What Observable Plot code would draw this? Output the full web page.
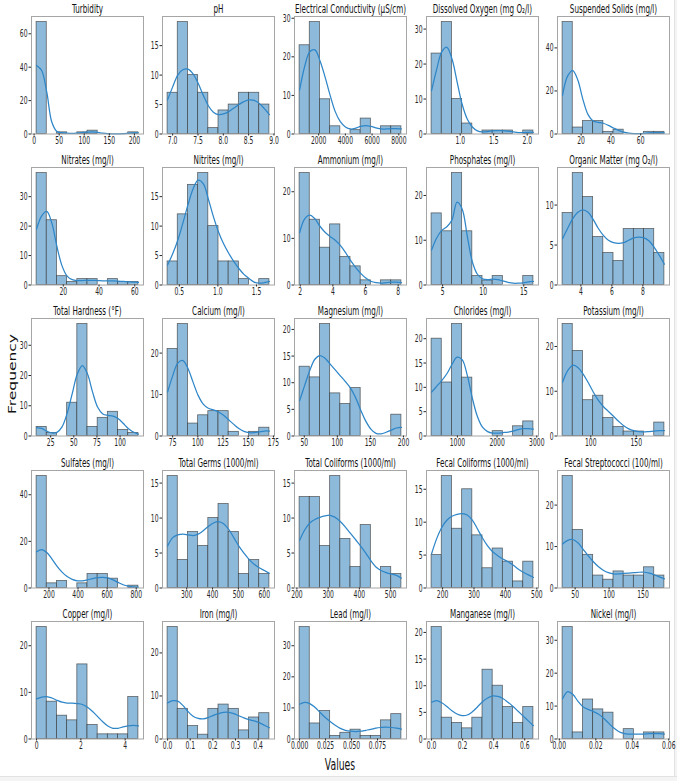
<!DOCTYPE html>
<html>
<head>
<meta charset="utf-8">
<script src="https://cdn.jsdelivr.net/npm/d3@7"></script>
<script src="https://cdn.jsdelivr.net/npm/@observablehq/plot@0.6"></script>
<style>
  html, body { margin: 0; padding: 0; background: #fff; }
  #fig { position: relative; width: 677px; height: 781px; overflow: hidden; background: #fff; }
  #edgeR { position: absolute; left: 674px; top: 0; width: 3px; height: 777px; background: #f4f4f4; border-left: 1px solid #e2e2e2; }
  #edgeB { position: absolute; left: 0; top: 776px; width: 677px; height: 5px; background: #f4f4f4; border-top: 1px solid #e2e2e2; }
</style>
</head>
<body>
<div id="fig"><div id="edgeR"></div><div id="edgeB"></div></div>
<script>
// Water-quality parameters: one histogram (10 bins) with a density curve per parameter.
const titles = [
  "Turbidity", "pH", "Electrical Conductivity (µS/cm)", "Dissolved Oxygen (mg O₂/l)", "Suspended Solids (mg/l)",
  "Nitrates (mg/l)", "Nitrites (mg/l)", "Ammonium (mg/l)", "Phosphates (mg/l)", "Organic Matter (mg O₂/l)",
  "Total Hardness (°F)", "Calcium (mg/l)", "Magnesium (mg/l)", "Chlorides (mg/l)", "Potassium (mg/l)",
  "Sulfates (mg/l)", "Total Germs (1000/ml)", "Total Coliforms (1000/ml)", "Fecal Coliforms (1000/ml)", "Fecal Streptococci (100/ml)",
  "Copper (mg/l)", "Iron (mg/l)", "Lead (mg/l)", "Manganese (mg/l)", "Nickel (mg/l)"
];

// Range covered by the bins (data minimum and maximum)
const binLo = [5, 6.9, 575, 0.573, 7.57, 5.05, 0.348, 1.96, 3.64, 2.82, 9.8, 70, 42.9, 350, 69, 115, 226, 208.6, 165, 31.5, 0, 0, 0, 0, 0.0018];
const binHi = [208, 8.91, 8195, 2.093, 75.9, 62.05, 1.668, 8.2, 16.19, 9.39, 119.8, 171, 196.9, 2915, 181, 815, 620, 534.6, 489, 181.5, 4.6, 0.45, 0.098, 0.656, 0.0576];

// Counts per bin
const counts = [
  [67, 0, 1, 0, 1, 2, 0, 0, 0, 1],
  [7, 19, 10, 7, 1, 4, 5, 7, 7, 5],
  [23, 29, 9, 2, 0, 1, 4, 0, 2, 2],
  [23, 32, 10, 3, 0, 1, 1, 1, 0, 1],
  [52, 3, 6, 6, 1, 2, 0, 0, 1, 1],
  [38, 22, 3, 1, 2, 2, 0, 2, 1, 1],
  [4, 12, 17, 19, 10, 4, 4, 1, 0, 1],
  [24, 14, 8, 13, 6, 4, 1, 0, 1, 1],
  [16, 12, 25, 12, 2, 1, 2, 0, 0, 2],
  [9, 14, 11, 6, 4, 3, 7, 7, 7, 4],
  [3, 1, 0, 11, 37, 3, 6, 8, 2, 1],
  [21, 27, 3, 5, 6, 6, 1, 0, 1, 2],
  [13, 11, 21, 8, 6, 9, 0, 0, 0, 4],
  [20, 11, 23, 12, 0, 0, 1, 0, 2, 3],
  [25, 19, 8, 9, 4, 2, 1, 1, 0, 3],
  [48, 2, 3, 0, 2, 6, 6, 4, 0, 1],
  [16, 4, 8, 6, 10, 12, 8, 2, 4, 2],
  [13, 13, 6, 16, 7, 3, 9, 0, 3, 2],
  [5, 17, 9, 15, 8, 3, 6, 4, 1, 4],
  [27, 14, 8, 3, 2, 4, 3, 3, 5, 3],
  [24, 8, 5, 4, 16, 3, 1, 1, 1, 9],
  [26, 7, 3, 1, 7, 8, 7, 2, 5, 6],
  [36, 5, 9, 1, 2, 3, 1, 1, 6, 8],
  [21, 4, 3, 2, 4, 13, 10, 6, 3, 6],
  [34, 2, 12, 9, 8, 0, 3, 0, 2, 2]
];

// Density curve (scaled to counts), sampled every half bin from binLo to binHi
const kde = [
  [41, 38, 25, 7, 1.5, 0.8, 0.5, 0.4, 0.6, 0.9, 1.1, 1.2, 1.0, 0.5, 0.2, 0.1, 0.1, 0.2, 0.4, 0.6, 0.6],
  [5.8, 8.0, 10.0, 10.9, 11.0, 10.2, 8.6, 6.6, 4.8, 3.7, 3.3, 3.4, 3.8, 4.4, 5.0, 5.5, 5.8, 5.7, 5.2, 4.3, 3.3],
  [11.4, 17.5, 21.3, 21.8, 19.0, 14.8, 10.0, 5.8, 3.2, 1.8, 1.3, 1.5, 2.0, 2.2, 2.0, 1.6, 1.3, 1.3, 1.4, 1.4, 1.3],
  [12.4, 18.5, 23.5, 24.8, 21.5, 15.0, 8.5, 4.3, 2.0, 0.9, 0.6, 0.7, 0.9, 1.0, 0.9, 0.8, 0.6, 0.4, 0.4, 0.5, 0.5],
  [18, 27, 29.5, 25, 16, 9, 6, 5.4, 5.0, 4.0, 2.8, 1.7, 0.9, 0.4, 0.2, 0.2, 0.3, 0.5, 0.6, 0.6, 0.5],
  [19, 23.5, 25, 21, 13, 6.5, 3.0, 1.8, 1.5, 1.5, 1.6, 1.6, 1.5, 1.4, 1.4, 1.4, 1.3, 1.2, 1.1, 1.0, 0.9],
  [3.4, 5.3, 7.6, 10.5, 13.6, 16.3, 17.8, 17.2, 14.6, 11.6, 9.0, 7.0, 5.4, 4.0, 2.8, 1.8, 1.1, 0.5, 0.3, 0.4, 0.6],
  [11.2, 14.2, 15.0, 14.2, 12.6, 11.3, 10.4, 9.6, 8.5, 7.0, 5.3, 3.8, 2.5, 1.5, 0.8, 0.5, 0.4, 0.5, 0.6, 0.6, 0.5],
  [7.8, 10.5, 12.2, 13.0, 14.5, 18.5, 17.0, 11.0, 5.2, 2.4, 1.4, 1.2, 1.3, 1.2, 0.9, 0.6, 0.4, 0.4, 0.5, 0.7, 0.8],
  [5.8, 7.1, 8.3, 9.1, 9.4, 9.1, 8.2, 7.1, 6.2, 5.6, 5.3, 5.2, 5.3, 5.6, 5.9, 6.0, 5.9, 5.5, 4.7, 3.7, 2.6],
  [2.8, 2.5, 1.6, 1.0, 1.2, 3.0, 7.5, 14.0, 20.5, 23.3, 20.5, 14.5, 9.5, 7.3, 6.8, 6.6, 5.8, 4.2, 2.5, 1.3, 0.6],
  [10.6, 14.5, 17.6, 18.2, 16.3, 13.0, 9.8, 7.7, 6.7, 6.3, 5.8, 5.0, 3.9, 2.8, 1.8, 1.1, 0.8, 0.8, 1.0, 1.2, 1.2],
  [6.6, 9.5, 12.3, 14.4, 15.1, 14.6, 13.5, 12.4, 11.3, 10.2, 9.0, 7.2, 4.9, 2.8, 1.3, 0.5, 0.4, 0.7, 1.1, 1.5, 1.6],
  [9.0, 10.2, 11.4, 12.8, 14.7, 16.2, 15.7, 12.5, 7.8, 4.0, 1.8, 0.9, 0.6, 0.6, 0.7, 0.8, 1.0, 1.3, 1.5, 1.5, 1.4],
  [12.0, 14.6, 15.8, 15.3, 13.9, 12.0, 9.9, 8.0, 6.6, 5.5, 4.4, 3.3, 2.3, 1.6, 1.2, 1.0, 0.9, 1.0, 1.1, 1.2, 1.2],
  [15.5, 16.5, 15.2, 12.5, 9.4, 6.8, 4.9, 3.7, 3.1, 3.1, 3.5, 4.0, 4.4, 4.6, 4.3, 3.5, 2.4, 1.4, 0.8, 0.5, 0.4],
  [6.0, 7.2, 7.6, 7.7, 7.6, 7.5, 7.7, 8.2, 8.8, 9.3, 9.5, 9.2, 8.4, 7.2, 6.0, 5.0, 4.1, 3.4, 2.9, 2.5, 2.1],
  [6.8, 8.3, 9.3, 9.8, 10.1, 10.3, 10.4, 10.1, 9.5, 8.7, 7.8, 6.9, 6.0, 5.0, 3.9, 3.0, 2.5, 2.2, 2.0, 1.8, 1.4],
  [5.2, 7.5, 9.2, 10.3, 10.9, 11.2, 11.3, 11.1, 10.3, 9.0, 7.6, 6.4, 5.5, 4.9, 4.4, 4.0, 3.5, 2.9, 2.4, 2.0, 1.6],
  [10.6, 11.5, 11.7, 10.9, 9.4, 7.8, 6.4, 5.2, 4.3, 3.7, 3.4, 3.4, 3.5, 3.6, 3.7, 3.8, 3.8, 3.6, 3.2, 2.7, 2.2],
  [8.6, 9.0, 9.1, 8.8, 8.3, 7.9, 7.7, 7.7, 7.6, 7.4, 6.8, 5.9, 4.8, 3.7, 2.8, 2.3, 2.3, 2.6, 2.8, 2.9, 2.8],
  [8.4, 8.9, 8.8, 7.8, 6.4, 5.3, 4.8, 4.7, 5.0, 5.5, 5.9, 6.2, 6.2, 5.9, 5.4, 4.9, 4.5, 4.2, 3.8, 3.2, 2.6],
  [11.2, 11.8, 11.4, 10.2, 8.6, 7.0, 5.6, 4.4, 3.4, 2.8, 2.5, 2.4, 2.5, 2.8, 3.1, 3.5, 3.7, 3.8, 3.7, 3.5, 3.2],
  [6.9, 7.2, 6.8, 6.1, 5.3, 4.7, 4.4, 4.5, 5.1, 6.0, 7.0, 7.7, 8.1, 8.0, 7.6, 6.9, 6.1, 5.2, 4.3, 3.4, 2.5],
  [12.2, 14.4, 13.6, 11.5, 9.8, 9.0, 8.4, 7.6, 6.4, 4.9, 3.4, 2.3, 1.7, 1.5, 1.5, 1.5, 1.5, 1.6, 1.6, 1.6, 1.5]
];

// Tick values and labels
const xTicks = [
  [0, 50, 100, 150, 200], [7, 7.5, 8, 8.5, 9], [2000, 4000, 6000, 8000], [1, 1.5, 2], [20, 40, 60],
  [20, 40, 60], [0.5, 1, 1.5], [2, 4, 6, 8], [5, 10, 15], [4, 6, 8],
  [25, 50, 75, 100], [75, 100, 125, 150, 175], [50, 100, 150, 200], [1000, 2000, 3000], [100, 150],
  [200, 400, 600, 800], [300, 400, 500, 600], [200, 300, 400, 500], [200, 300, 400, 500], [50, 100, 150],
  [0, 2, 4], [0, 0.1, 0.2, 0.3, 0.4], [0, 0.025, 0.05, 0.075], [0, 0.2, 0.4, 0.6], [0, 0.02, 0.04, 0.06]
];
const xTickLabels = [
  ["0", "50", "100", "150", "200"], ["7.0", "7.5", "8.0", "8.5", "9.0"], ["2000", "4000", "6000", "8000"], ["1.0", "1.5", "2.0"], ["20", "40", "60"],
  ["20", "40", "60"], ["0.5", "1.0", "1.5"], ["2", "4", "6", "8"], ["5", "10", "15"], ["4", "6", "8"],
  ["25", "50", "75", "100"], ["75", "100", "125", "150", "175"], ["50", "100", "150", "200"], ["1000", "2000", "3000"], ["100", "150"],
  ["200", "400", "600", "800"], ["300", "400", "500", "600"], ["200", "300", "400", "500"], ["200", "300", "400", "500"], ["50", "100", "150"],
  ["0", "2", "4"], ["0.0", "0.1", "0.2", "0.3", "0.4"], ["0.000", "0.025", "0.050", "0.075"], ["0.0", "0.2", "0.4", "0.6"], ["0.00", "0.02", "0.04", "0.06"]
];
const yTicks = [
  [0, 20, 40, 60], [0, 5, 10, 15], [0, 10, 20, 30], [0, 10, 20, 30], [0, 20, 40],
  [0, 10, 20, 30], [0, 5, 10, 15], [0, 10, 20], [0, 10, 20], [0, 5, 10],
  [0, 10, 20, 30], [0, 10, 20], [0, 5, 10, 15, 20], [0, 5, 10, 15, 20], [0, 10, 20],
  [0, 20, 40], [0, 5, 10, 15], [0, 5, 10, 15], [0, 5, 10, 15], [0, 10, 20],
  [0, 10, 20], [0, 10, 20], [0, 10, 20, 30], [0, 5, 10, 15, 20], [0, 10, 20, 30]
];

// Grid geometry (panel frames)
const COLS = 5;
const frameX0 = 30.7, frameDX = 131.6, frameY0 = 16, frameDY = 151.2, frameW = 112, frameH = 117.5;
const mL = 30, mR = 6, mT = 22, mB = 20;
const narrowTitle = 0.6, narrowTick = 0.55; // horizontal compression of the lettering

// Compress text horizontally around each label's own anchor point
function condense(svg) {
  svg.querySelectorAll("text").forEach(t => {
    const g = t.closest("g[aria-label]");
    const isTick = g && /tick label/.test(g.getAttribute("aria-label"));
    const k = isTick ? narrowTick : narrowTitle;
    const tr = t.getAttribute("transform");
    if (tr) {
      t.setAttribute("transform", `${tr} scale(${k},1)`);
    } else {
      const x = +(t.getAttribute("x") || 0);
      t.removeAttribute("x");
      t.setAttribute("transform", `translate(${x},0) scale(${k},1)`);
    }
  });
}

const fig = document.getElementById("fig");

titles.forEach((title, i) => {
  const lo = binLo[i], hi = binHi[i], c = counts[i];
  const w = (hi - lo) / c.length;
  const bins = c.map((v, k) => ({x1: lo + k * w, x2: lo + (k + 1) * w, count: v}));
  const steps = kde[i].length - 1;
  const curve = kde[i].map((v, k) => ({x: lo + k * (hi - lo) / steps, y: v}));
  const pad = 0.05 * (hi - lo);
  const top = 1.05 * Math.max(d3.max(c), d3.max(kde[i]));
  const xt = xTicks[i], xl = xTickLabels[i];

  const svg = Plot.plot({
    width: mL + frameW + mR,
    height: mT + frameH + mB,
    marginLeft: mL, marginRight: mR, marginTop: mT, marginBottom: mB,
    style: {fontFamily: "'DejaVu Sans', sans-serif", fontSize: "11px", color: "#262626", background: "transparent", overflow: "visible"},
    x: {domain: [lo - pad, hi + pad], label: null},
    y: {domain: [0, top], label: null},
    marks: [
      Plot.rectY(bins, {x1: "x1", x2: "x2", y: "count", inset: 0, fill: "#8dbada", stroke: "#2e2e2e", strokeOpacity: 0.7, strokeWidth: 0.8}),
      Plot.line(curve, {x: "x", y: "y", curve: "catmull-rom", stroke: "#2e86c8", strokeWidth: 1.25}),
      Plot.frame({stroke: "#a6a6a6", strokeWidth: 1}),
      Plot.axisX(xt, {tickSize: 2, tickPadding: 0.5, tickFormat: d => xl[xt.indexOf(d)], label: null, fontSize: 11}),
      Plot.axisY(yTicks[i], {tickSize: 2.5, tickPadding: 1.5, label: null, fontSize: 11}),
      Plot.text([title], {frameAnchor: "top", dy: -3.5, lineAnchor: "bottom", fontSize: 12, fill: "#111"})
    ]
  });
  svg.style.position = "absolute";
  svg.style.left = (frameX0 + (i % COLS) * frameDX - mL) + "px";
  svg.style.top = (frameY0 + Math.floor(i / COLS) * frameDY - mT) + "px";
  fig.appendChild(svg);
  condense(svg);
});

// Shared axis titles
const labels = d3.create("svg")
  .attr("width", 677).attr("height", 781)
  .style("position", "absolute").style("left", "0px").style("top", "0px")
  .style("font-family", "'DejaVu Sans', sans-serif").style("pointer-events", "none");
labels.append("text")
  .attr("transform", "translate(15.5,374) scale(0.72,1) rotate(-90)")
  .attr("text-anchor", "middle").attr("font-size", 15.5).attr("fill", "#111")
  .text("Frequency");
labels.append("text")
  .attr("transform", "translate(340,770) scale(0.62,1)")
  .attr("text-anchor", "middle").attr("font-size", 15).attr("fill", "#111")
  .text("Values");
fig.appendChild(labels.node());
</script>
</body>
</html>
